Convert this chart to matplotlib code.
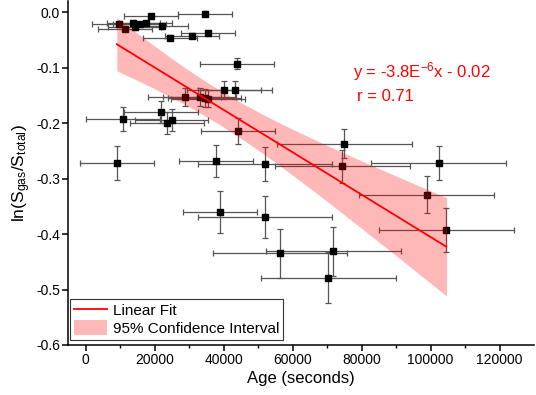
import numpy as np
import matplotlib
matplotlib.use("Agg")
import matplotlib.pyplot as plt
from matplotlib.lines import Line2D
from matplotlib.patches import Patch

# ── Data ──────────────────────────────────────────────────────────────────────

age = [34700, 19000, 9650, 11500, 13900, 14200, 15650, 17400, 22030, 24430,
       30920, 35450, 43860, 40200, 43280, 28700, 33040, 34490, 35450, 10810,
       21940, 24930, 23560, 44250, 9080, 37870, 51980, 39030, 51980, 56420,
       71800, 70350, 74980, 102320, 74400, 98840, 104550]
ln_ratio = [-0.003, -0.008, -0.0215, -0.031, -0.019, -0.0275, -0.0215, -0.020,
            -0.0245, -0.046, -0.0425, -0.037, -0.093, -0.141, -0.141, -0.153,
            -0.153, -0.155, -0.156, -0.192, -0.180, -0.195, -0.1995, -0.2145,
            -0.272, -0.268, -0.274, -0.360, -0.370, -0.435, -0.431, -0.4785,
            -0.237, -0.272, -0.278, -0.329, -0.3925]
age_err = [7800] * 12 + [10700] * 14 + [19500, 10700, 19500, 19500,
                                         19500, 19500, 19500, 19600, 19500, 19500, 19500]
ln_err = [0.004] * 12 + [0.010, 0.016, 0.016, 0.0155, 0.016, 0.016, 0.016,
                         0.0215, 0.020, 0.020, 0.020, 0.024, 0.030, 0.029,
                         0.030, 0.038, 0.038, 0.044, 0.044, 0.046, 0.026,
                         0.030, 0.030, 0.034, 0.040]

# linear fit  y = slope * x + intercept
fit_slope = -3.82e-6
fit_intercept = -0.0234

# 95% confidence band edges
band_x = [9070, 15000, 20000, 25000, 30000, 35000, 40000, 45000, 50000,
          55000, 60000, 70000, 80000, 90000, 104640]
band_upper = [-0.0103, -0.0382, -0.0613, -0.0837, -0.1053, -0.1258, -0.1450,
              -0.1631, -0.1800, -0.1960, -0.2113, -0.2404, -0.2683, -0.2955,
              -0.3346]
band_lower = [-0.1059, -0.1232, -0.1383, -0.1541, -0.1707, -0.1885, -0.2074,
              -0.2275, -0.2488, -0.2710, -0.2939, -0.3412, -0.3897, -0.4389,
              -0.5117]

x_ticks = [0, 20000, 40000, 60000, 80000, 100000, 120000]
y_ticks = [0.0, -0.1, -0.2, -0.3, -0.4, -0.5, -0.6]

# ── Style ─────────────────────────────────────────────────────────────────────

plt.rcParams["font.family"] = ["Liberation Sans", "DejaVu Sans"]
plt.rcParams["mathtext.fontset"] = "custom"
plt.rcParams["mathtext.rm"] = "Liberation Sans"
plt.rcParams["mathtext.default"] = "regular"
plt.rcParams["axes.unicode_minus"] = False

BAND_ALPHA = 0.28

# ── Plot ──────────────────────────────────────────────────────────────────────

fig = plt.figure(figsize=(5.36, 3.95), dpi=100)
ax = fig.add_axes([0.1274, 0.1266, 0.869, 0.871])

ax.errorbar(age, ln_ratio, xerr=age_err, yerr=ln_err, fmt="s", color="black",
            markersize=5, ecolor="#555555", elinewidth=0.9, capsize=2.5,
            capthick=0.9, zorder=3)

ax.fill_between(band_x, band_lower, band_upper, color="red", alpha=BAND_ALPHA,
                linewidth=0, zorder=4)

fit_x = np.array([min(age), max(age)])
ax.plot(fit_x, fit_slope * fit_x + fit_intercept, color="red", lw=1.3, zorder=5)

ax.text(77400, -0.108, "y = -3.8E$^{-6}$x - 0.02", color="red", fontsize=12,
        ha="left", va="center")
ax.text(78600, -0.153, "r = 0.71", color="red", fontsize=12,
        ha="left", va="center")

ax.set_xlim(-5000, 130000)
ax.set_ylim(-0.6, 0.02)
ax.set_xticks(x_ticks)
ax.set_xticks(np.arange(10000, 130000, 20000), minor=True)
ax.set_yticks(y_ticks)
ax.set_yticklabels([f"{v:.1f}" for v in y_ticks])
ax.set_xticklabels([str(v) for v in x_ticks])

for side in ["top", "right"]:
    ax.spines[side].set_visible(False)
for side in ["left", "bottom"]:
    ax.spines[side].set_linewidth(1.1)

ax.tick_params(axis="both", which="major", direction="out", length=4,
               width=1.1, labelsize=10, pad=2)
ax.tick_params(axis="x", which="minor", direction="out", length=2.5, width=1.0)

ax.set_xlabel("Age (seconds)", fontsize=12, labelpad=3)
ax.set_ylabel("ln(S$_{gas}$/S$_{total}$)", fontsize=12.5, labelpad=2)

handles = [Line2D([0], [0], color="red", lw=1.3),
           Patch(facecolor="red", alpha=BAND_ALPHA, linewidth=0)]
leg = ax.legend(handles, ["Linear Fit", "95% Confidence Interval"],
                loc="lower left", bbox_to_anchor=(0.003, 0.015),
                borderaxespad=0, fontsize=11, fancybox=False,
                edgecolor="#333333", framealpha=1, handlelength=2.2,
                handleheight=1.1, labelspacing=0.15, handletextpad=0.4,
                borderpad=0.25)
leg.get_frame().set_linewidth(0.8)

fig.savefig("out.png", dpi=100)
